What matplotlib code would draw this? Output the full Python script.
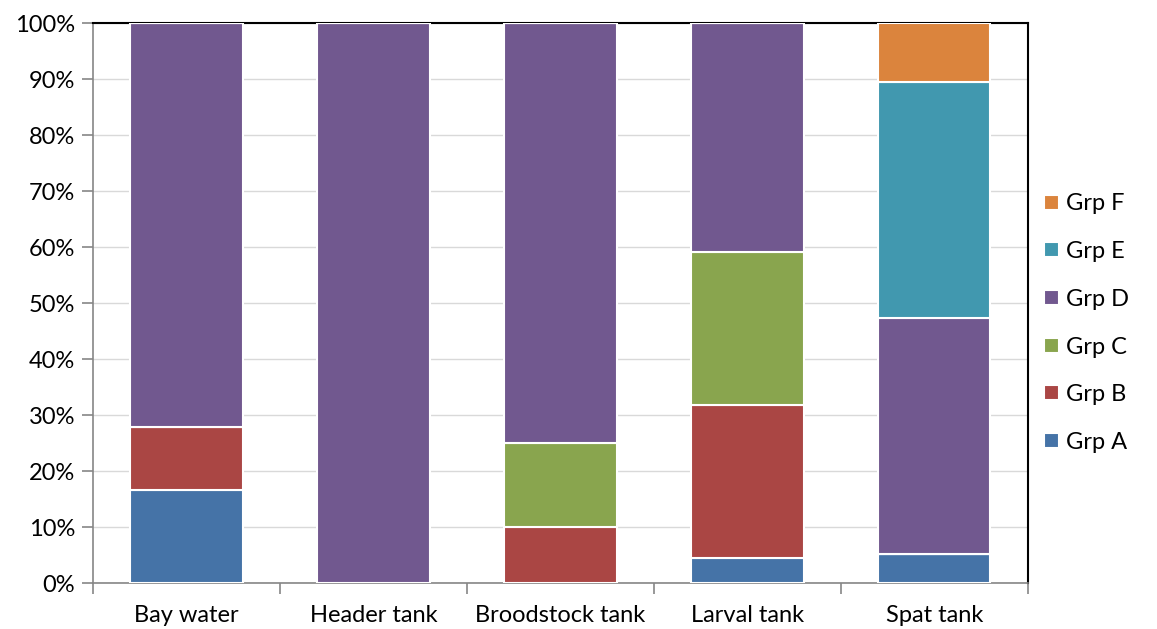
import matplotlib.pyplot as plt
import numpy as np
from matplotlib.ticker import FixedLocator, PercentFormatter

categories = ["Bay water", "Header tank", "Broodstock tank", "Larval tank", "Spat tank"]
groups = ["Grp A", "Grp B", "Grp C", "Grp D", "Grp E", "Grp F"]

# percent share of each group per tank
grp_a = [16.67, 0, 0, 4.55, 5.26]
grp_b = [11.11, 0, 10.0, 27.27, 0]
grp_c = [0, 0, 15.0, 27.27, 0]
grp_d = [72.22, 100.0, 75.0, 40.91, 42.11]
grp_e = [0, 0, 0, 0, 42.11]
grp_f = [0, 0, 0, 0, 10.53]

colors = ["#4573A7", "#AA4644", "#89A54E", "#71588F", "#4198AF", "#DB843D"]

plt.rcParams['font.family'] = ['Lato', 'DejaVu Sans']

fig = plt.figure(figsize=(11.57, 6.29), dpi=100)
ax = fig.add_axes([0.0804, 0.0731, 0.808, 0.8903])

x = np.arange(len(categories))
bottom = np.zeros(len(categories))
handles = []
for name, vals, col in zip(groups, [grp_a, grp_b, grp_c, grp_d, grp_e, grp_f], colors):
    vals = np.array(vals)
    b = ax.bar(x, vals, 0.6, bottom=bottom, color=col, edgecolor="white",
               linewidth=1.5, label=name, zorder=3)
    handles.append(b)
    bottom += vals

ax.set_xlim(-0.5, len(categories) - 0.5)
ax.set_ylim(0, 100)
ax.set_yticks(np.arange(0, 101, 10))
ax.yaxis.set_major_formatter(PercentFormatter(decimals=0))
ax.grid(axis="y", color="#D9D9D9", linewidth=1, zorder=0)

ax.set_xticks(x)
ax.set_xticklabels(categories)
ax.xaxis.set_minor_locator(FixedLocator(np.arange(-0.5, len(categories), 1)))
ax.tick_params(axis="x", which="major", length=0, pad=16, labelsize=17)
ax.tick_params(axis="x", which="minor", length=8, color="#868686", width=1.2)
ax.tick_params(axis="y", length=8, color="#868686", width=1.2, labelsize=17, pad=5)

for s in ["left", "bottom"]:
    ax.spines[s].set_color("#868686")
    ax.spines[s].set_linewidth(1.2)
for s in ["top", "right"]:
    ax.spines[s].set_color("black")
    ax.spines[s].set_linewidth(1.5)

ax.legend(handles[::-1], groups[::-1], loc="center left", bbox_to_anchor=(0.995, 0.464),
          frameon=False, fontsize=17, handlelength=0.6, handleheight=0.6,
          handletextpad=0.3, labelspacing=1.13)

fig.savefig("out.png", dpi=100)
